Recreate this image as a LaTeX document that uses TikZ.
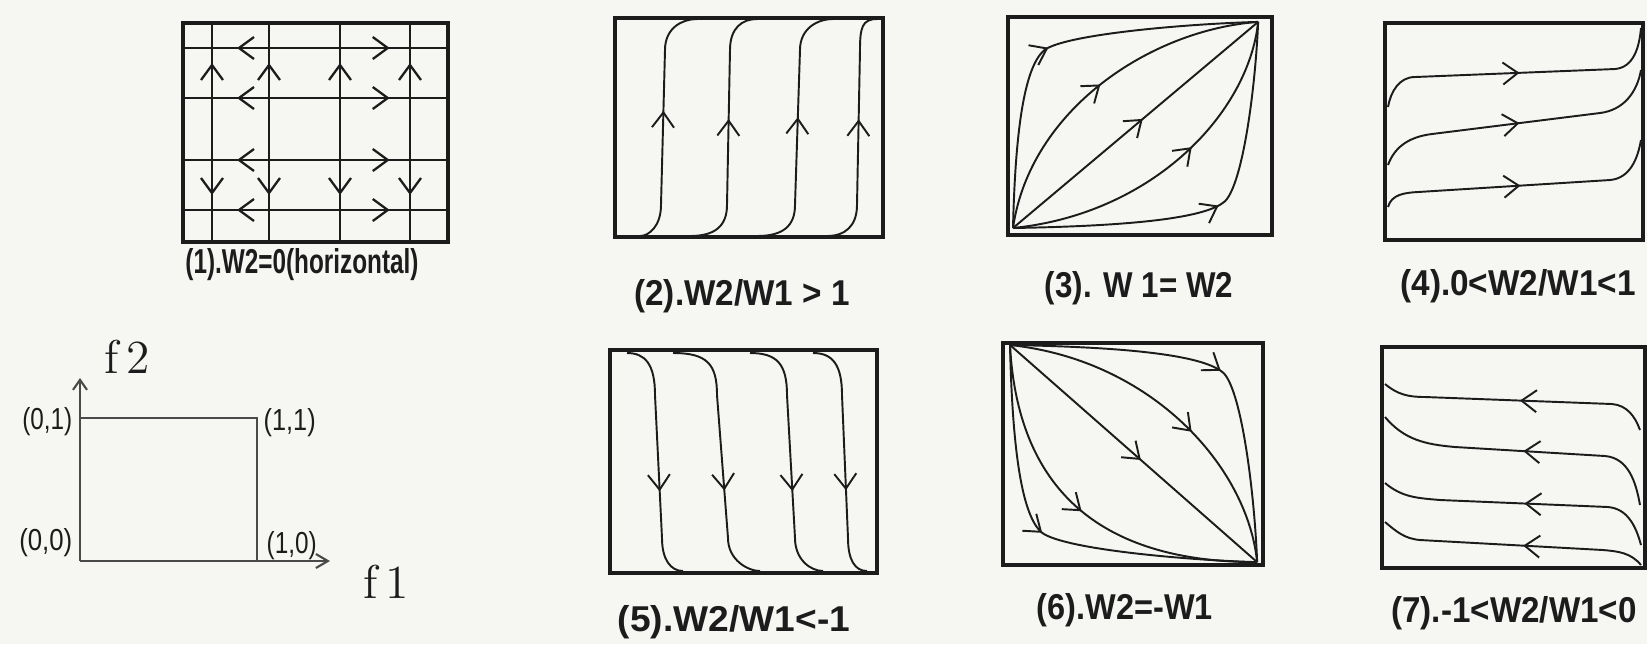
\documentclass[tikz,border=0pt]{standalone}
\usepackage{fontspec}
\usepackage{graphicx}
\usepackage{xcolor}
\usetikzlibrary{arrows.meta,decorations.markings}
\newfontfamily\plotterfont{Liberation Sans}
\definecolor{plotink}{HTML}{1C1C1C}
\definecolor{axisgray}{HTML}{4A4A4A}
\definecolor{paperwhite}{HTML}{F6F6F3}

\begin{document}
\begin{tikzpicture}[x=0.01cm,y=-0.01cm,
    barbtip/.tip={Straight Barb[length=1.5mm,width=2.2mm]},
    panelbox/.style={draw=plotink,line width=1.1pt},
    gridline/.style={draw=plotink,line width=.65pt},
    flow/.style={draw=plotink,line width=.55pt},
    flowtip/.style={postaction={decorate,decoration={markings,
        mark=at position #1 with {\arrow{barbtip}}}}},
    backtip/.style={postaction={decorate,decoration={markings,
        mark=at position #1 with {\arrowreversed{barbtip}}}}},
    axisline/.style={draw=axisgray,line width=.6pt},
    panelcap/.style={plotink,font=\plotterfont\bfseries\fontsize{8}{9}\selectfont,inner sep=0pt},
    cornerlab/.style={plotink,font=\plotterfont\fontsize{6}{7}\selectfont,inner sep=0pt},
    axislab/.style={plotink,font=\fontsize{13.5}{14}\selectfont,inner sep=0pt},
    pics/lensflow/.style 2 args={code={
      \draw[flow,flowtip=.53] (0,0) -- (1,1);
      \draw[flow,flowtip=.5] (0,0) .. controls (#1) and (#2) .. (1,1);
      \draw[flow,flowtip=.58] (0,0) .. controls (.573,.069) and (.961,.559) .. (1,1);
      \draw[flow,flowtip=.47] (0,0) .. controls (.01,.5) and (.05,.79) .. (.13,.865)
        .. controls (.22,.94) and (.7,.99) .. (1,1);
      \draw[flow,flowtip=.52] (0,0) .. controls (.5,.01) and (.79,.05) .. (.865,.13)
        .. controls (.94,.22) and (.99,.7) .. (1,1);
    }}]
  \fill[paperwhite] (0,0) rectangle (1647,644);
  \useasboundingbox (0,0) rectangle (1647,644);

  % (1) horizontal
  \draw[panelbox] (183,23) rectangle (448,242);
  \foreach \x in {212,269,340,410}
    \draw[gridline,flowtip=.817,backtip=.215] (\x,242) -- (\x,23);
  \foreach \y in {48,98,160,210}
    \draw[gridline,flowtip=.78,backtip=.204] (183,\y) -- (448,\y);
  \node[panelcap] (cap1) at (302,265) {\resizebox{23.3mm}{2.5mm}{(1).W2=0(horizontal)}};

  % (2)
  \draw[panelbox] (615,18) rectangle (883,237);
  \foreach \b/\v/\w/\t in {640/661/665/697,690/727/730/757,757/795/800/833,827/857/860/877}
    \draw[flow,flowtip=.55] (\b,236) .. controls (\v-12,236) and (\v,226) .. (\v,205)
      -- (\w,50) .. controls (\w,28) and (\t-15,19) .. (\t,19);
  \node[panelcap] (cap2) at (742,296) {\resizebox{21.5mm}{2.6mm}{(2).W2/W1 > 1}};

  % (3)
  \draw[panelbox] (1008,17) rectangle (1272,235);
  \begin{scope}[shift={(1013,228)},x={(2.45cm,0)},y={(0,2.06cm)}]
    \pic at (0,0) {lensflow={.069,.573}{.559,.961}};
  \end{scope}
  \node[panelcap] (cap3) at (1139,288) {\resizebox{18.8mm}{2.6mm}{(3). W 1= W2}};

  % (4)
  \draw[panelbox] (1385,23) rectangle (1643,240);
  \draw[flow,flowtip=.5] (1388,107) to[out=80,in=180] (1415,77) -- (1615,69)
    to[out=5,in=-95] (1641,28);
  \draw[flow,flowtip=.5] (1388,165) to[out=70,in=187] (1432,134) -- (1600,113)
    to[out=7,in=-100] (1641,70);
  \draw[flow,flowtip=.49] (1388,207) to[out=75,in=183] (1418,192) -- (1610,180)
    to[out=5,in=-100] (1641,140);
  \node[panelcap] (cap4) at (1518,286) {\resizebox{23.5mm}{2.6mm}{(4).0<W2/W1<1}};

  % axes
  \coordinate (origin) at (80,561);
  \coordinate (cornerA) at (80,418);
  \coordinate (cornerB) at (257,418);
  \coordinate (cornerC) at (257,561);
  \coordinate (f2end) at (80,378);
  \coordinate (f1end) at (330,561);
  \draw[axisline] (cornerA) -- (cornerB) -- (cornerC);
  \draw[axisline,-{Straight Barb[length=1mm,width=1.4mm]}] (origin) -- (f2end);
  \draw[axisline,-{Straight Barb[length=1.2mm,width=1.4mm]}] (origin) -- (f1end);
  \node[cornerlab,anchor=east] (c01) at (73,422) {\resizebox{5mm}{2.2mm}{(0,1)}};
  \node[cornerlab,anchor=west] (c11) at (263,423) {\resizebox{5.2mm}{2.2mm}{(1,1)}};
  \node[cornerlab,anchor=east] (c00) at (73,543) {\resizebox{5.3mm}{2.2mm}{(0,0)}};
  \node[cornerlab,anchor=west] (c10) at (266,546) {\resizebox{5mm}{2.2mm}{(1,0)}};
  \node[axislab] (f2) at (127,357) {f\,2};
  \node[axislab] (f1) at (386,582) {f\,1};

  % (5)
  \draw[panelbox] (610,350) rectangle (877,573);
  \foreach \t/\a/\b/\e in {627/655/662/683,673/717/728/760,750/787/795/823,813/842/848/867}
    \draw[flow,flowtip=.63] (\t,353) .. controls (\a-10,353) and (\a,364) .. (\a,395)
      -- (\b,538) .. controls (\b,560) and (\e-12,571) .. (\e,571);
  \node[panelcap] (cap5) at (734,622) {\resizebox{23.2mm}{2.6mm}{(5).W2/W1<-1}};

  % (6)
  \draw[panelbox] (1003,343) rectangle (1263,565);
  \begin{scope}[shift={(1010,345)},x={(2.47cm,0)},y={(0,-2.17cm)}]
    \pic at (0,0) {lensflow={.03,.65}{.35,1}};
  \end{scope}
  \node[panelcap] (cap6) at (1125,610) {\resizebox{17.6mm}{2.6mm}{(6).W2=-W1}};

  % (7)
  \draw[panelbox] (1382,347) rectangle (1645,568);
  \draw[flow,flowtip=.49] (1640,430) to[out=110,in=-5] (1612,404) -- (1425,397)
    to[out=180,in=-40] (1385,384);
  \draw[flow,flowtip=.5] (1640,505) to[out=100,in=-5] (1605,456) -- (1455,447)
    to[out=175,in=-50] (1385,417);
  \draw[flow,flowtip=.49] (1641,545) to[out=105,in=-5] (1608,507) -- (1440,500)
    to[out=175,in=-40] (1385,483);
  \draw[flow,flowtip=.46] (1641,565) to[out=130,in=-5] (1603,550) -- (1420,540)
    to[out=175,in=-40] (1385,522);
  \node[panelcap] (cap7) at (1514,613) {\resizebox{24.5mm}{2.6mm}{(7).-1<W2/W1<0}};
\end{tikzpicture}
\end{document}
